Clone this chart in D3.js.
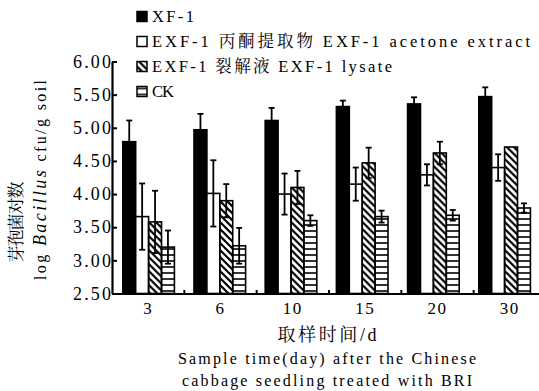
<!DOCTYPE html>
<html>
<head>
<meta charset="utf-8">
<script src="https://d3js.org/d3.v7.min.js"></script>
<style>
  body { margin: 0; background: #fff; }
  text { font-family: "Liberation Serif", "Times New Roman", Times, "DejaVu Serif", "Noto Serif CJK SC", "Noto Sans CJK SC", serif; fill: #000; }
</style>
</head>
<body>
<script>

// sample days (x categories)
var days = ["3", "6", "10", "15", "20", "30"];

// log Bacillus values per treatment, with error (+/-)
var xf1 = [4.79, 4.97, 5.11, 5.32, 5.36, 5.47];
var xf1Err = [0.32, 0.24, 0.19, 0.09, 0.10, 0.14];
var acetone = [3.66, 4.01, 4.00, 4.15, 4.29, 4.40];
var acetoneErr = [0.50, 0.50, 0.31, 0.25, 0.16, 0.20];
var lysate = [3.58, 3.90, 4.10, 4.47, 4.62, 4.71];
var lysateErr = [0.47, 0.25, 0.25, 0.23, 0.17, 0];
var ck = [3.20, 3.22, 3.60, 3.66, 3.68, 3.79];
var ckErr = [0.25, 0.27, 0.08, 0.09, 0.08, 0.07];

// y axis ticks
var yTicks = [2.5, 3.0, 3.5, 4.0, 4.5, 5.0, 5.5, 6.0];

// legend labels
var legendLabels = ["XF-1", "EXF-1 丙酮提取物 EXF-1 acetone extract",
                    "EXF-1 裂解液 EXF-1 lysate", "CK"];
var seriesKeys = ["xf1", "acetone", "lysate", "ck"];

var width = 539, height = 391;

var svg = d3.select("body")
  .append("svg")
  .attr("width", width)
  .attr("height", height);

// patterns for the hatched bars
var defs = svg.append("defs");
defs.append("pattern")
  .attr("id", "diag")
  .attr("patternUnits", "userSpaceOnUse")
  .attr("width", 7).attr("height", 7)
  .append("path")
  .attr("d", "M-1,-1L8,8M6,-1L8,1M-1,6L1,8")
  .attr("stroke", "#000")
  .attr("stroke-width", 2.2);
defs.append("pattern")
  .attr("id", "horiz")
  .attr("patternUnits", "userSpaceOnUse")
  .attr("width", 6).attr("height", 6)
  .append("path")
  .attr("d", "M-1,3L7,3")
  .attr("stroke", "#000")
  .attr("stroke-width", 1.6);

var fills = { xf1: "#000", acetone: "#fff", lysate: "url(#diag)", ck: "url(#horiz)" };

// scales
var y = d3.scaleLinear().domain([2.5, 6]).range([293.5, 61.5]);

var x0 = d3.scaleBand()
  .domain(days)
  .range([113, 113 + 6 * 71.2])
  .paddingInner(0.275)
  .paddingOuter(0.1375);

var x1 = d3.scaleBand()
  .domain(seriesKeys)
  .range([0, x0.bandwidth()]);

// scale for tick labels on x axis
var xLab = d3.scaleBand().domain(days).range([112, 546]);

// table of rows built from the arrays
var rows = days.map(function(d, i) {
  return {
    day: d,
    values: [
      { key: "xf1", v: xf1[i], e: xf1Err[i] },
      { key: "acetone", v: acetone[i], e: acetoneErr[i] },
      { key: "lysate", v: lysate[i], e: lysateErr[i] },
      { key: "ck", v: ck[i], e: ckErr[i] }
    ]
  };
});

// draw bars
var groups = svg.selectAll("g.group")
  .data(rows)
  .enter()
  .append("g")
  .attr("class", "group")
  .attr("transform", function(d) { return "translate(" + x0(d.day) + ",0)"; });

groups.selectAll("rect")
  .data(function(d) { return d.values; })
  .enter()
  .append("rect")
  .attr("x", function(d) { return x1(d.key); })
  .attr("y", function(d) { return y(d.v); })
  .attr("width", x1.bandwidth())
  .attr("height", function(d) { return y(2.5) - y(d.v); })
  .attr("fill", function(d) { return fills[d.key]; })
  .attr("stroke", "#000")
  .attr("stroke-width", 1.6);

// error bars
var errs = groups.selectAll("g.err")
  .data(function(d) { return d.values.filter(function(v) { return v.e > 0; }); })
  .enter()
  .append("g")
  .attr("class", "err")
  .attr("stroke", "#000")
  .attr("stroke-width", 1.8);

errs.append("line")
  .attr("x1", function(d) { return x1(d.key) + x1.bandwidth() / 2; })
  .attr("x2", function(d) { return x1(d.key) + x1.bandwidth() / 2; })
  .attr("y1", function(d) { return y(d.v + d.e); })
  .attr("y2", function(d) { return y(d.v - d.e); });
errs.append("line")
  .attr("x1", function(d) { return x1(d.key) + x1.bandwidth() / 2 - 3; })
  .attr("x2", function(d) { return x1(d.key) + x1.bandwidth() / 2 + 3; })
  .attr("y1", function(d) { return y(d.v + d.e); })
  .attr("y2", function(d) { return y(d.v + d.e); });
errs.append("line")
  .attr("x1", function(d) { return x1(d.key) + x1.bandwidth() / 2 - 3; })
  .attr("x2", function(d) { return x1(d.key) + x1.bandwidth() / 2 + 3; })
  .attr("y1", function(d) { return y(d.v - d.e); })
  .attr("y2", function(d) { return y(d.v - d.e); });

// y axis
var yAxis = d3.axisLeft(y)
  .tickValues(yTicks)
  .tickSizeInner(-5)
  .tickSizeOuter(0)
  .tickPadding(0)
  .tickFormat(d3.format(".2f"));

var yG = svg.append("g")
  .attr("transform", "translate(112,0)")
  .call(yAxis);
yG.attr("font-family", null);
yG.select(".domain").attr("stroke-width", 2.2);
yG.selectAll(".tick line").attr("stroke-width", 2);
yG.selectAll(".tick text")
  .attr("x", -1)
  .attr("textLength", 38)
  .attr("lengthAdjust", "spacing")
  .style("font-size", "18px");

// x axis
var xAxis = d3.axisBottom(xLab).tickSize(0).tickPadding(8);
var xG = svg.append("g")
  .attr("transform", "translate(0,293.5)")
  .call(xAxis);
xG.attr("font-family", null);
xG.select(".domain").attr("stroke-width", 2.2);
xG.selectAll(".tick text")
  .style("font-size", "17px")
  .style("letter-spacing", "1.5px");

// small marks between the day groups
svg.selectAll("line.sep")
  .data(days.slice(0, 5))
  .enter()
  .append("line")
  .attr("class", "sep")
  .attr("x1", function(d) { return xLab(d) + xLab.step(); })
  .attr("x2", function(d) { return xLab(d) + xLab.step(); })
  .attr("y1", 293)
  .attr("y2", 290)
  .attr("stroke", "#000")
  .attr("stroke-width", 2);

// legend
var legendLen = [42, 378, 240, 22];
var legend = svg.selectAll("g.legend")
  .data(legendLabels)
  .enter()
  .append("g")
  .attr("class", "legend")
  .attr("transform", function(d, i) { return "translate(137," + (16.5 + i * 25) + ")"; });

legend.append("rect")
  .attr("x", 0)
  .attr("y", -5)
  .attr("width", 10)
  .attr("height", 10)
  .attr("fill", function(d, i) { return fills[seriesKeys[i]]; })
  .attr("stroke", "#000")
  .attr("stroke-width", 1.5);

legend.append("text")
  .attr("x", 15)
  .attr("dy", "0.35em")
  .attr("textLength", function(d, i) { return legendLen[i]; })
  .attr("lengthAdjust", "spacing")
  .style("font-size", "16.5px")
  .text(function(d) { return d; });

// y title, two rotated lines
svg.append("text")
  .attr("transform", "translate(16,222) rotate(-90)")
  .attr("text-anchor", "middle")
  .attr("dy", "0.35em")
  .attr("textLength", 81)
  .attr("lengthAdjust", "spacing")
  .style("font-size", "17px")
  .text("芽孢菌对数");

var yTitle = svg.append("text")
  .attr("transform", "translate(40,180) rotate(-90)")
  .attr("text-anchor", "middle")
  .attr("dy", "0.35em")
  .attr("textLength", 200)
  .attr("lengthAdjust", "spacing")
  .style("font-size", "16px");
yTitle.append("tspan").text("log ");
yTitle.append("tspan").style("font-style", "italic").style("font-size", "18px").text("Bacillus");
yTitle.append("tspan").text(" cfu/g soil");

// x title lines
var xTitles = [
  { t: "取样时间/d", y: 335, len: 99, size: 18 },
  { t: "Sample time(day) after the Chinese", y: 359, len: 298, size: 16 },
  { t: "cabbage seedling treated with BRI", y: 380.5, len: 290, size: 16 }
];
svg.selectAll("text.xtitle")
  .data(xTitles)
  .enter()
  .append("text")
  .attr("class", "xtitle")
  .attr("x", 327)
  .attr("y", function(d) { return d.y; })
  .attr("dy", "0.33em")
  .attr("text-anchor", "middle")
  .attr("textLength", function(d) { return d.len; })
  .attr("lengthAdjust", "spacing")
  .style("font-size", function(d) { return d.size + "px"; })
  .text(function(d) { return d.t; });

</script>
</body>
</html>
